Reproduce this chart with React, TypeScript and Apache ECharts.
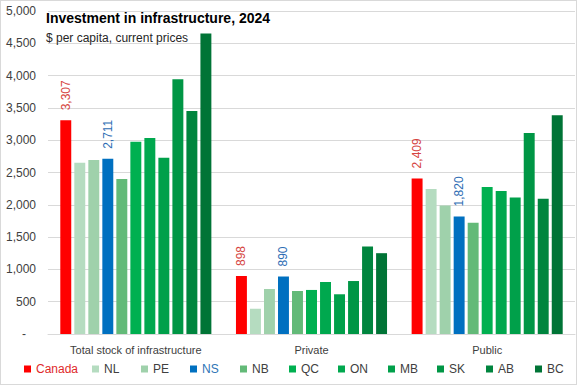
import React, { useEffect, useRef } from "react";
import * as echarts from "echarts";

const categories = ["Total stock of infrastructure", "Private", "Public"];
const regions = ["Canada", "NL", "PE", "NS", "NB", "QC", "ON", "MB", "SK", "AB", "BC"];
const canada = [3307, 898, 2409];
const nl = [2650, 390, 2245];
const pe = [2695, 697, 1990];
const ns = [2711, 890, 1820];
const nb = [2400, 666, 1723];
const qc = [2975, 682, 2277];
const on = [3035, 805, 2215];
const mb = [2728, 615, 2113];
const sk = [3943, 820, 3113];
const ab = [3451, 1354, 2092];
const bc = [4651, 1251, 3385];
const seriesValues = [canada, nl, pe, ns, nb, qc, on, mb, sk, ab, bc];
const colors = ["#FF0000", "#B5DCC0", "#9FD1AB", "#0070C0", "#63BA78", "#00B050", "#00A84E", "#00A04A", "#009645", "#00853E", "#007436"];
const labelled: Record<string, string> = { Canada: "#D64541", NS: "#2E6DB4" };
const legendX = [23, 91, 140, 189, 239, 288, 337, 387, 436, 485, 534];
const yTicks = { min: 0, max: 5000, interval: 500 };

const FONT = "'Liberation Sans Narrow', 'Liberation Sans', sans-serif";

export default function App() {
  const ref = useRef<HTMLDivElement>(null);
  useEffect(() => {
    if (!ref.current) return;
    const chart = echarts.init(ref.current, null, { renderer: "svg" });
    const series = regions.map((name, i) => ({
      name,
      type: "bar",
      data: seriesValues[i],
      barGap: "28%",
      barCategoryGap: "14%",
      itemStyle: { color: colors[i] },
      label: labelled[name]
        ? {
            show: true,
            position: "top",
            rotate: 90,
            align: "left",
            verticalAlign: "middle",
            distance: 10,
            color: labelled[name],
            fontSize: 12,
            fontFamily: FONT,
            formatter: (p: any) => p.value.toLocaleString("en-US"),
          }
        : { show: false },
    }));
    const legends = regions.map((name, i) => ({
      left: legendX[i],
      top: 362,
      padding: 0,
      icon: "rect",
      itemWidth: 7,
      itemHeight: 7,
      itemGap: 5,
      data: [name],
      textStyle: {
        color: labelled[name] ? (name === "Canada" ? "#E02A2A" : "#2E75B6") : "#404040",
        fontSize: 12,
        fontFamily: FONT,
      },
    }));
    chart.setOption({
      animation: false,
      textStyle: { fontFamily: FONT },
      title: {
        text: "Investment in infrastructure, 2024",
        subtext: "$ per capita, current prices",
        left: 45,
        top: 10,
        padding: 0,
        itemGap: 7,
        textStyle: { fontSize: 14, fontWeight: "bold", color: "#000", fontFamily: FONT },
        subtextStyle: { fontSize: 12, color: "#262626", fontFamily: FONT },
      },
      legend: legends,
      grid: { left: 47, right: 1, top: 10, bottom: 50, containLabel: false },
      xAxis: {
        type: "category",
        data: categories,
        axisLine: { lineStyle: { color: "#D9D9D9" } },
        axisTick: { show: false },
        axisLabel: { color: "#404040", fontSize: 11, margin: 10, interval: 0, fontFamily: FONT },
      },
      yAxis: {
        type: "value",
        min: yTicks.min,
        max: yTicks.max,
        interval: yTicks.interval,
        axisLine: { show: false },
        axisTick: { show: false },
        splitLine: { lineStyle: { color: "#D9D9D9" } },
        axisLabel: {
          color: "#404040",
          fontSize: 12,
          margin: 12,
          fontFamily: FONT,
          formatter: (v: number) => (v === 0 ? "-   " : v.toLocaleString("en-US")),
        },
      },
      series,
    });
    return () => chart.dispose();
  }, []);
  return (
    <div
      style={{
        position: "fixed",
        left: 0,
        top: 0,
        width: 577,
        height: 385,
        boxSizing: "border-box",
        border: "1px solid #D9D9D9",
        background: "#fff",
      }}
    >
      <div ref={ref} style={{ width: 575, height: 383 }} />
    </div>
  );
}
